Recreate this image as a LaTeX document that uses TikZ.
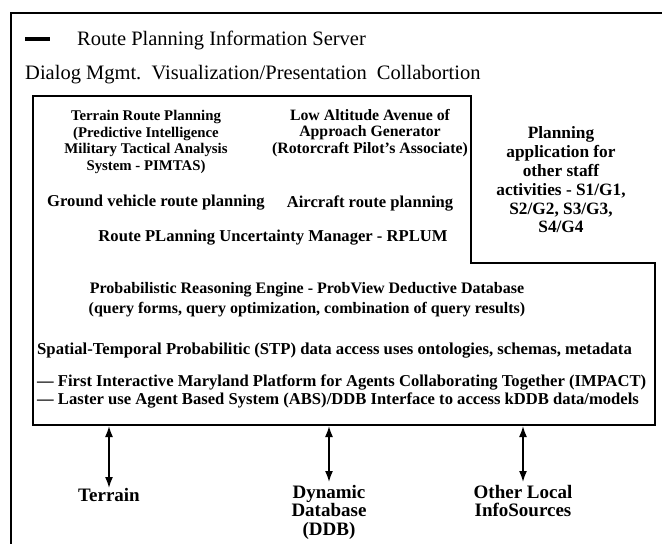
\documentclass[tikz,border=0pt]{standalone}
\usepackage{fontspec}
\setmainfont{Liberation Serif}
\usetikzlibrary{arrows.meta,positioning}
\tikzset{%
    head_txt/.style={%
        font=\fontsize{20.5}{24}\selectfont, anchor=west, inner sep=0pt
    },
    app_txt/.style={%
        font=\fontsize{#1}{16.7}\selectfont\bfseries, align=center, inner sep=0pt
    },
    app_txt/.default=16.6,
    line_txt/.style={%
        font=\fontsize{#1}{18}\selectfont\bfseries, align=left, anchor=west, inner sep=0pt
    },
    line_txt/.default=16.6,
    big_txt/.style={%
        font=\fontsize{17.3}{18.8}\selectfont\bfseries, align=center, inner sep=0pt
    },
    src_txt/.style={%
        font=\fontsize{19}{18.5}\selectfont\bfseries, align=center, anchor=north, inner sep=0pt
    },
    frame/.style={%
        draw, line width=1.2pt
    },
    server_box/.style={%
        draw, line width=1.8pt, line join=miter
    },
    io_arrow/.style={%
        {Latex[length=11pt,width=8pt]}-{Latex[length=11pt,width=8pt]}, line width=1.6pt
    },
}
\begin{document}
\begin{tikzpicture}[x=1pt,y=-1pt]

    \useasboundingbox (0,0) rectangle (662,544);

    % outer server frame, cut by the page edge
    \draw[frame] (11,544) -- (11,13) -- (662,13);
    \draw[line width=4pt] (25,39) -- (50,39);
    \node[head_txt] (title) at (77,40) {Route Planning Information Server};
    \node[head_txt] (services) at (25,75) {Dialog Mgmt.\ \ Visualization/Presentation\ \ Collabortion};

    % inner box with the step for the staff applications
    \draw[server_box] (33,96) -- (471,96) -- (471,263) -- (655,263) -- (655,425) -- (33,425) -- cycle;

    \node[app_txt=14.8] (pimtas) at (146,142) {Terrain Route Planning\\(Predictive Intelligence\\Military Tactical Analysis\\System - PIMTAS)};
    \node[app_txt=15.8] (avenue) at (370,133) {Low Altitude Avenue of\\Approach Generator\\(Rotorcraft Pilot's Associate)};
    \node[app_txt] (ground) at (156,203) {Ground vehicle route planning};
    \node[app_txt] (aircraft) at (370,203) {Aircraft route planning};
    \node[app_txt] (rplum) at (273,238) {Route PLanning Uncertainty Manager - RPLUM};

    \node[big_txt] (staff) at (561,180) {Planning\\application for\\other staff\\activities - S1/G1,\\S2/G2, S3/G3,\\S4/G4};

    \node[app_txt, font=\fontsize{16}{20}\selectfont\bfseries] (probview) at (307,300) {Probabilistic Reasoning Engine - ProbView Deductive Database\\(query forms, query optimization, combination of query results)};
    \node[line_txt=16.7] (stp) at (37,351) {Spatial-Temporal Probabilitic (STP) data access uses ontologies, schemas, metadata};
    \node[line_txt] (impact) at (37,391) {— First Interactive Maryland Platform for Agents Collaborating Together (IMPACT)\\— Laster use Agent Based System (ABS)/DDB Interface to access kDDB data/models};

    % local information sources
    \node[src_txt] (terrain) at (109,488) {Terrain};
    \node[src_txt] (ddb) at (329,485) {Dynamic\\Database\\(DDB)};
    \node[src_txt] (infosrc) at (523,485) {Other Local\\InfoSources};

    \coordinate (terrain_in) at (109,426);
    \coordinate (ddb_in) at (329,426);
    \coordinate (infosrc_in) at (523,426);

    \draw[io_arrow] (terrain_in) -- (terrain.north);
    \draw[io_arrow] (ddb_in) -- ([yshift=3pt]ddb.north);
    \draw[io_arrow] (infosrc_in) -- ([yshift=3pt]infosrc.north);

\end{tikzpicture}
\end{document}
